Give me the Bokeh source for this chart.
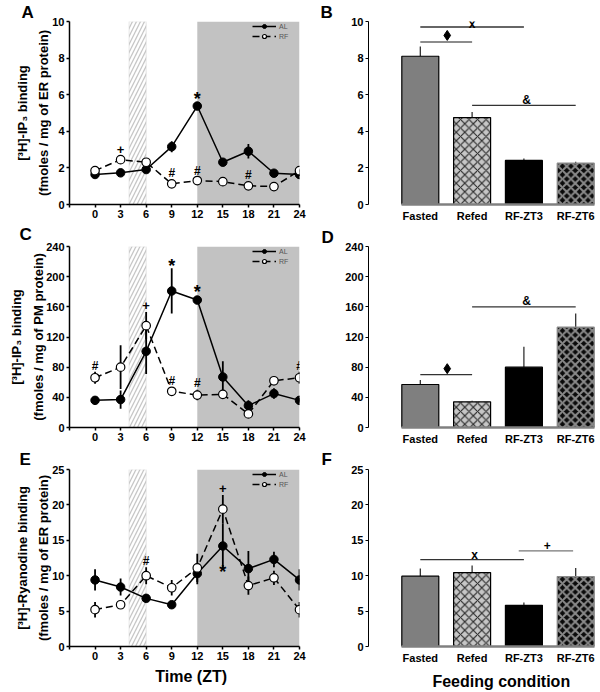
import math
from bokeh.plotting import figure
from bokeh.models import Range1d, FixedTicker, Legend, LegendItem, BoxAnnotation, Title
from bokeh.layouts import column, row
from bokeh.embed import file_html
from bokeh.resources import INLINE
from bokeh.core.properties import value

FONT = "Liberation Sans"
NB = "\u00a0"

# ---------------- data ----------------
zt = [0, 3, 6, 9, 12, 15, 18, 21, 24]
zt_ticks = [-3, 0, 3, 6, 9, 12, 15, 18, 21, 24]
zt_range = [-3, 24]
dark_phase = [12, 24]
feeding_window = [4, 6]

# Panel A: [3H]-IP3 binding, ER
a_al = [1.64, 1.73, 1.91, 3.16, 5.38, 2.31, 2.91, 1.71, 1.64]
a_al_err = [0.08, 0.08, 0.10, 0.30, 0.12, 0.10, 0.40, 0.10, 0.08]
a_rf = [1.85, 2.45, 2.31, 1.13, 1.31, 1.25, 1.02, 0.98, 1.85]
a_rf_err = [0.10, 0.10, 0.10, 0.10, 0.10, 0.22, 0.10, 0.08, 0.10]
a_yticks = [0, 2, 4, 6, 8, 10]
a_mark_x = [3, 12, 9, 12, 18]
a_mark_y = [3.0, 5.9, 1.7, 1.85, 1.6]
a_mark_t = ["+", "*", "#", "#", "#"]

# Panel C: [3H]-IP3 binding, PM
c_al = [36, 37, 101, 181, 169, 67, 29, 45, 36]
c_al_err = [3, 12, 30, 30, 5, 21, 7, 7, 3]
c_rf = [66, 80, 135, 48, 43, 44, 18, 62, 66]
c_rf_err = [8, 29, 18, 3, 7, 4, 4, 6, 8]
c_yticks = [0, 40, 80, 120, 160, 200, 240]
c_mark_x = [0, 6, 9, 12, 9, 12, 24]
c_mark_y = [81, 162, 217, 182, 62, 59, 81]
c_mark_t = ["#", "+", "*", "*", "#", "#", "#"]

# Panel E: [3H]-Ryanodine binding, ER
e_al = [9.4, 8.4, 6.8, 5.9, 10.3, 14.2, 11.0, 12.3, 9.4]
e_al_err = [1.5, 1.2, 0.4, 0.3, 1.5, 3.2, 2.5, 1.1, 1.5]
e_rf = [5.2, 5.9, 10.0, 8.3, 11.1, 19.4, 8.6, 9.7, 5.2]
e_rf_err = [1.1, 0.4, 1.2, 1.1, 2.0, 2.0, 1.3, 1.0, 1.1]
e_yticks = [0, 5, 10, 15, 20, 25]
e_mark_x = [6, 15, 15]
e_mark_y = [12.1, 22.3, 10.8]
e_mark_t = ["#", "+", "*"]

# Bar panels
conditions = ["Fasted", "Refed", "RF-ZT3", "RF-ZT6"]
b_vals = [8.10, 4.75, 2.41, 2.26]
b_err = [0.53, 0.30, 0.10, 0.07]
b_sig_x0 = [0, 0, 1]
b_sig_x1 = [2, 1, 3]
b_sig_y = [9.70, 8.88, 5.42]
b_sym_x = [1.0, 0.52, 2.05]
b_sym_y = [9.84, 9.24, 5.73]
b_sym_t = ["x", "\u2666", "&"]

d_vals = [57, 34, 80, 133]
d_err = [6, 1.5, 27, 18]
d_sig_x0 = [0, 1]
d_sig_x1 = [1, 3]
d_sig_y = [70, 160]
d_sym_x = [0.52, 2.05]
d_sym_y = [78, 168]
d_sym_t = ["\u2666", "&"]

f_vals = [9.93, 10.44, 5.81, 9.89]
f_err = [1.07, 1.00, 0.41, 1.18]
f_sig_x0 = [0, 1.9]
f_sig_x1 = [2, 2.95]
f_sig_y = [12.27, 13.5]
f_sym_x = [1.05, 2.45]
f_sym_y = [12.95, 14.2]
f_sym_t = ["x", "+"]

# ---------------- helpers ----------------
def style_axes(p):
    for ax in p.axis:
        ax.major_label_text_font = FONT
        ax.major_label_text_font_style = "bold"
        ax.major_label_text_font_size = "11px"
        ax.major_label_text_color = "black"
        ax.minor_tick_line_color = None
        ax.axis_line_color = "black"
        ax.major_tick_line_color = "black"
        ax.major_tick_in = 0
        ax.major_tick_out = 3
        ax.major_label_standoff = 2
        ax.axis_label_text_font = FONT
        ax.axis_label_text_font_style = "bold"
        ax.axis_label_text_color = "black"


def add_letter(p, letter, x_off, standoff):
    p.add_layout(Title(text=letter, align="left", offset=x_off, vertical_align="top",
                       standoff=standoff, text_font=FONT, text_font_style="bold",
                       text_font_size="17px", text_color="black"), "above")


def line_panel(h, top, bottom, ymax, yticks, al, al_err, rf, rf_err,
               mk_x, mk_y, mk_t, ylabel, lab_standoff, letter, letter_x, letter_so):
    p = figure(width=307, height=h, min_border_left=69, min_border_right=8,
               min_border_top=top, min_border_bottom=bottom,
               x_range=Range1d(zt_range[0], zt_range[1]), y_range=Range1d(0, ymax),
               output_backend="svg", toolbar_location=None)
    p.outline_line_color = None
    p.xgrid.visible = False
    p.ygrid.visible = False
    p.add_layout(BoxAnnotation(left=dark_phase[0], right=dark_phase[1],
                               fill_color="#c2c2c2", fill_alpha=1.0,
                               line_color=None, level="underlay"))
    p.add_layout(BoxAnnotation(left=feeding_window[0], right=feeding_window[1],
                               fill_color="white", fill_alpha=1.0,
                               line_color="#c6c6c6", line_width=1.5,
                               hatch_pattern="/", hatch_color="#c6c6c6",
                               hatch_scale=8, hatch_weight=1.3, level="underlay"))
    al_lo = [v - e for v, e in zip(al, al_err)]
    al_hi = [v + e for v, e in zip(al, al_err)]
    rf_lo = [v - e for v, e in zip(rf, rf_err)]
    rf_hi = [v + e for v, e in zip(rf, rf_err)]
    p.segment(x0=zt, x1=zt, y0=al_lo, y1=al_hi, line_color="black", line_width=1.8)
    p.segment(x0=zt, x1=zt, y0=rf_lo, y1=rf_hi, line_color="black", line_width=1.8)
    rf_line = p.line(zt, rf, line_color="black", line_width=1.5, line_dash="7 4")
    al_line = p.line(zt, al, line_color="black", line_width=1.5)
    al_pts = p.scatter(zt, al, size=8.5, marker="circle", fill_color="black",
                       line_color="black", line_width=1)
    rf_pts = p.scatter(zt, rf, size=8.5, marker="circle", fill_color="white",
                       line_color="black", line_width=1.2)
    for sym, fs, off in (("*", "18px", 2), ("#", "12px", 0), ("+", "13px", 0)):
        xs = [x for x, t in zip(mk_x, mk_t) if t == sym]
        ys = [y for y, t in zip(mk_y, mk_t) if t == sym]
        if xs:
            p.text(x=xs, y=ys, text=[sym] * len(xs), text_align="center",
                   text_baseline="middle", text_font=value(FONT),
                   text_font_style="bold", text_font_size=fs, y_offset=off,
                   text_color="black")
    legend = Legend(items=[LegendItem(label="AL", renderers=[al_line, al_pts]),
                           LegendItem(label="RF", renderers=[rf_line, rf_pts])],
                    location="top_right", margin=0, padding=2, spacing=0,
                    glyph_width=24, glyph_height=10, label_height=10,
                    label_standoff=3, label_text_font=FONT,
                    label_text_font_size="7px", label_text_color="#555555",
                    background_fill_alpha=0, border_line_color=None)
    p.add_layout(legend)
    p.xaxis.ticker = FixedTicker(ticks=zt_ticks)
    p.xaxis.major_label_overrides = {zt_ticks[0]: ""}
    p.yaxis.ticker = FixedTicker(ticks=yticks)
    style_axes(p)
    for ax in p.axis:
        ax.axis_line_width = 1.5
        ax.major_tick_line_width = 1.5
    p.yaxis.axis_label = ylabel
    p.yaxis.axis_label_text_font_size = "13px"
    p.yaxis.axis_label_text_line_height = 1.45
    p.yaxis.axis_label_standoff = lab_standoff
    add_letter(p, letter, letter_x, letter_so)
    return p


BAR_W = 0.714
bar_fill = ["#7f7f7f", "#c6c6c6", "#000000", "#0a0a0a"]
bar_line = ["black", "black", "black", "#8a8a8a"]
bar_hatch = [None, "x", None, "x"]
bar_hatch_col = [None, "#2a2a2a", None, "#8a8a8a"]
bar_hatch_w = [1, 1.1, 1, 2.0]


def bar_panel(h, top, bottom, yend, yticks, vals, errs, sx0, sx1, sy, scol,
              sym_x, sym_y, sym_t, letter, letter_x, letter_so):
    p = figure(width=293, height=h, min_border_left=61, min_border_right=2,
               min_border_top=top, min_border_bottom=bottom,
               x_range=Range1d(-1.0, 3.44), y_range=Range1d(0, yend),
               output_backend="svg", toolbar_location=None)
    p.outline_line_color = None
    p.xgrid.visible = False
    p.ygrid.visible = False
    xs = list(range(len(conditions)))
    tops = [v + e for v, e in zip(vals, errs)]
    p.segment(x0=xs, x1=xs, y0=vals, y1=tops, line_color="#222222", line_width=1.2)
    for i in xs:
        kw = dict(x=[i], top=[vals[i]], bottom=0, width=BAR_W,
                  fill_color=bar_fill[i], line_color=bar_line[i], line_width=1.2)
        if bar_hatch[i]:
            kw.update(hatch_pattern=bar_hatch[i], hatch_color=bar_hatch_col[i],
                      hatch_scale=8.5, hatch_weight=bar_hatch_w[i])
        p.vbar(**kw)
    p.segment(x0=sx0, x1=sx1, y0=sy, y1=sy, line_color=scol, line_width=1.3)
    for x, y, t in zip(sym_x, sym_y, sym_t):
        if t == "\u2666":
            p.scatter(x=[x], y=[y], marker="diamond", size=10,
                      fill_color="black", line_color="black")
        else:
            p.text(x=[x], y=[y], text=[t], text_align="center", text_baseline="middle",
                   text_font=value(FONT), text_font_style="bold",
                   text_font_size="12px", text_color="black")
    p.xaxis.ticker = FixedTicker(ticks=xs)
    p.xaxis.major_label_overrides = {i: c for i, c in enumerate(conditions)}
    p.yaxis.ticker = FixedTicker(ticks=yticks)
    style_axes(p)
    p.yaxis.bounds = (yticks[0], yticks[-1])
    p.xaxis.bounds = (-BAR_W / 2, xs[-1] + BAR_W / 2)
    p.xaxis.axis_line_color = "#808080"
    p.xaxis.axis_line_width = 2.5
    p.xaxis.major_tick_line_color = None
    p.xaxis.major_tick_out = 0
    p.xaxis.major_label_standoff = 5
    add_letter(p, letter, letter_x, letter_so)
    return p


pA = line_panel(224, 21, 20, 10, a_yticks, a_al, a_al_err, a_rf, a_rf_err,
                a_mark_x, a_mark_y, a_mark_t,
                "[\u00b3H]-IP\u2083 binding\n(fmoles / mg of ER protein)", -2, "A", -48, -5)
pC = line_panel(223, 22, 18, 240, c_yticks, c_al, c_al_err, c_rf, c_rf_err,
                c_mark_x, c_mark_y, c_mark_t,
                "[\u00b3H]-IP\u2083 binding\n(fmoles / mg of PM protein)", -3, "C", -50, 1)
pE = line_panel(245, 22, 43, 25, e_yticks, e_al, e_al_err, e_rf, e_rf_err,
                e_mark_x, e_mark_y, e_mark_t,
                "[\u00b3H]-Ryanodine binding\n(fmoles / mg of ER protein)", -2, "E", -50, -3)
pE.xaxis.axis_label = NB * 3 + "Time (ZT)"
pE.xaxis.axis_label_text_font_size = "16px"
pE.xaxis.axis_label_standoff = 5

pB = bar_panel(224, 21, 20, 10, a_yticks, b_vals, b_err, b_sig_x0, b_sig_x1, b_sig_y,
               ["#333333", "#666666", "#333333"], b_sym_x, b_sym_y, b_sym_t, "B", -48, -5)
pD = bar_panel(223, 22, 18, 240, c_yticks, d_vals, d_err, d_sig_x0, d_sig_x1, d_sig_y,
               ["#333333", "#333333"], d_sym_x, d_sym_y, d_sym_t, "D", -47, -5)
pF = bar_panel(245, 22, 43, 25, e_yticks, f_vals, f_err, f_sig_x0, f_sig_x1, f_sig_y,
               ["#333333", "#777777"], f_sym_x, f_sym_y, f_sym_t, "F", -47, -3)
pF.xaxis.axis_label = NB * 8 + "Feeding condition"
pF.xaxis.axis_label_text_font_size = "16px"
pF.xaxis.axis_label_standoff = 6

layout = column(row(pA, pB), row(pC, pD), row(pE, pF))
open("out.html", "w").write(file_html(layout, INLINE))
